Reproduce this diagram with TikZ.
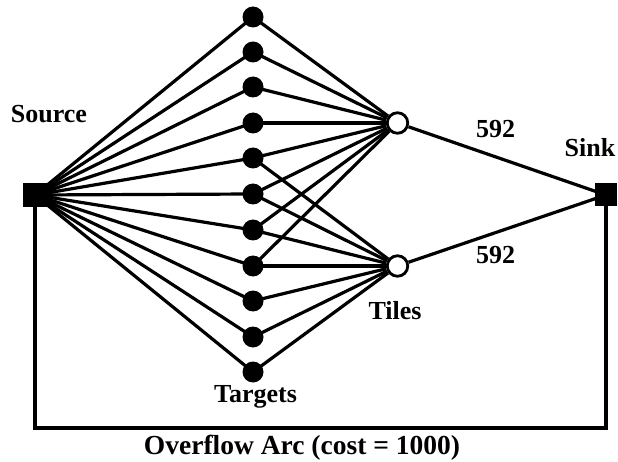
\documentclass[tikz,border=0pt]{standalone}
\usepackage{fontspec}
\setmainfont{Liberation Serif}
\usetikzlibrary{backgrounds}
\begin{document}
\begin{tikzpicture}[x=1pt,y=-1pt,
  edge/.style={line width=3.2pt},
  target/.style={circle,fill=black,inner sep=0pt,minimum size=21pt},
  tile/.style={circle,draw=black,fill=white,line width=2.8pt,inner sep=0pt,minimum size=20.5pt},
  term/.style={rectangle,fill=black,inner sep=0pt,minimum width=24pt,minimum height=24pt},
  lbl/.style={font=\fontsize{26}{30}\selectfont\bfseries,inner sep=0pt,anchor=base}]
\useasboundingbox (0,0) rectangle (618,462);
\node[term] (src) at (35,195) {};
\node[term,minimum width=22pt,minimum height=23pt] (sink) at (606,195) {};
\foreach \i/\y in {1/17,2/52,3/87,4/123,5/158,6/194,7/230,8/266,9/301,10/337,11/372}
  \node[target] (t\i) at (253,\y) {};
\node[tile] (tA) at (397.5,123) {};
\node[tile] (tB) at (397.5,266) {};
\coordinate (ov) at (320,428);
\begin{pgfonlayer}{background}
\foreach \i in {1,...,11} \draw[edge] (src.center) -- (t\i.center);
\foreach \i in {1,...,8} \draw[edge] (t\i.center) -- (tA);
\foreach \i in {5,...,11} \draw[edge] (t\i.center) -- (tB);
\draw[edge] (tA) -- (sink.center);
\draw[edge] (tB) -- (sink.center);
\draw[edge] (src.center) |- (ov) -| (sink.center);
\end{pgfonlayer}
\node[lbl] (lsrc) at (49,123) {Source};
\node[lbl] (lsink) at (590,157) {Sink};
\node[lbl] (w1) at (495.5,138) {592};
\node[lbl] (w2) at (495.5,263) {592};
\node[lbl] (ltiles) at (395,319) {Tiles};
\node[lbl] (ltgt) at (255.5,402) {Targets};
\node[lbl,font=\fontsize{27.5}{32}\selectfont\bfseries] (lovf) at (302,454) {Overflow Arc (cost = 1000)};
\end{tikzpicture}
\end{document}
